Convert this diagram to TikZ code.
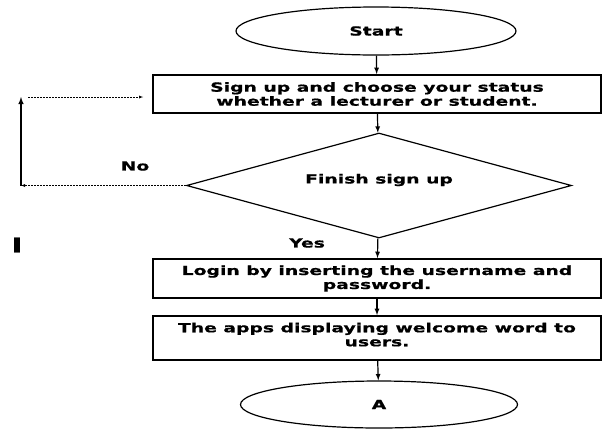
\documentclass[tikz,border=0pt]{standalone}
\usepackage{fontspec}
\newfontfamily\flowfont{DejaVu Sans}[FakeStretch=1.5, FakeBold=0.8]
\usetikzlibrary{shapes.geometric, positioning, arrows}

\begin{document}
\begin{tikzpicture}[x=1pt, y=-1pt, >=latex, font=\flowfont\bfseries\fontsize{12.5}{14}\selectfont]
    % Style for the shapes
    \tikzstyle{term node}=[ellipse, draw, line width=1.2pt, inner sep=0pt]
    \tikzstyle{step box}=[rectangle, draw, line width=1.8pt, align=center, minimum width=448pt, minimum height=38pt, inner sep=0pt]
    \tikzstyle{check node}=[diamond, draw, line width=1.2pt, minimum width=385pt, minimum height=105pt, inner sep=0pt]
    \tikzstyle{flow arrow}=[->, line width=1.2pt]

    \useasboundingbox (0,0) rectangle (604,429);

    % Draw the shapes of the flow
    \node[term node, minimum width=280pt, minimum height=48pt] (start) at (376,31) {Start};
    \node[step box] (signup) at (377,94) {Sign up and choose your status\\whether a lecturer or student.};
    \node[check node] (finish) at (379,185.5) {};
    \node (finishtxt) at (379,180) {Finish sign up};
    \node[step box, minimum height=39pt] (login) at (377,278.5) {Login by inserting the username and\\password.};
    \node[step box, minimum height=44pt, text depth=7pt] (welcome) at (377,338) {The apps displaying welcome word to\\users.};
    \node[term node, minimum width=277pt, minimum height=47pt] (a) at (379,404.5) {A};

    % Labels on the branches
    \node (no) at (135,166) {No};
    \node (yes) at (307,243) {Yes};
    \node[font=\flowfont\bfseries\fontsize{20}{20}\selectfont] (mark) at (17,245) {I};

    % Draw the arrows down the flow
    \draw[flow arrow] (start) -- (signup);
    \draw[flow arrow] (signup) -- (finish);
    \draw[flow arrow] (finish) -- (login);
    \draw[flow arrow] (login) -- (welcome);
    \draw[flow arrow] (welcome) -- (a);

    % The No branch goes back to sign up
    \coordinate (loopdown) at (21,185.5);
    \coordinate (loopup) at (21,97);
    \draw[->, thin, dash pattern=on 2pt off 1pt] (finish.west) -- (loopdown);
    \draw[->, line width=1.4pt] (loopdown) -- (loopup);
    \draw[->, thin, dash pattern=on 2pt off 1pt, shorten <=7pt, shorten >=9pt] (loopup) -- (loopup -| signup.west);

\end{tikzpicture}
\end{document}
